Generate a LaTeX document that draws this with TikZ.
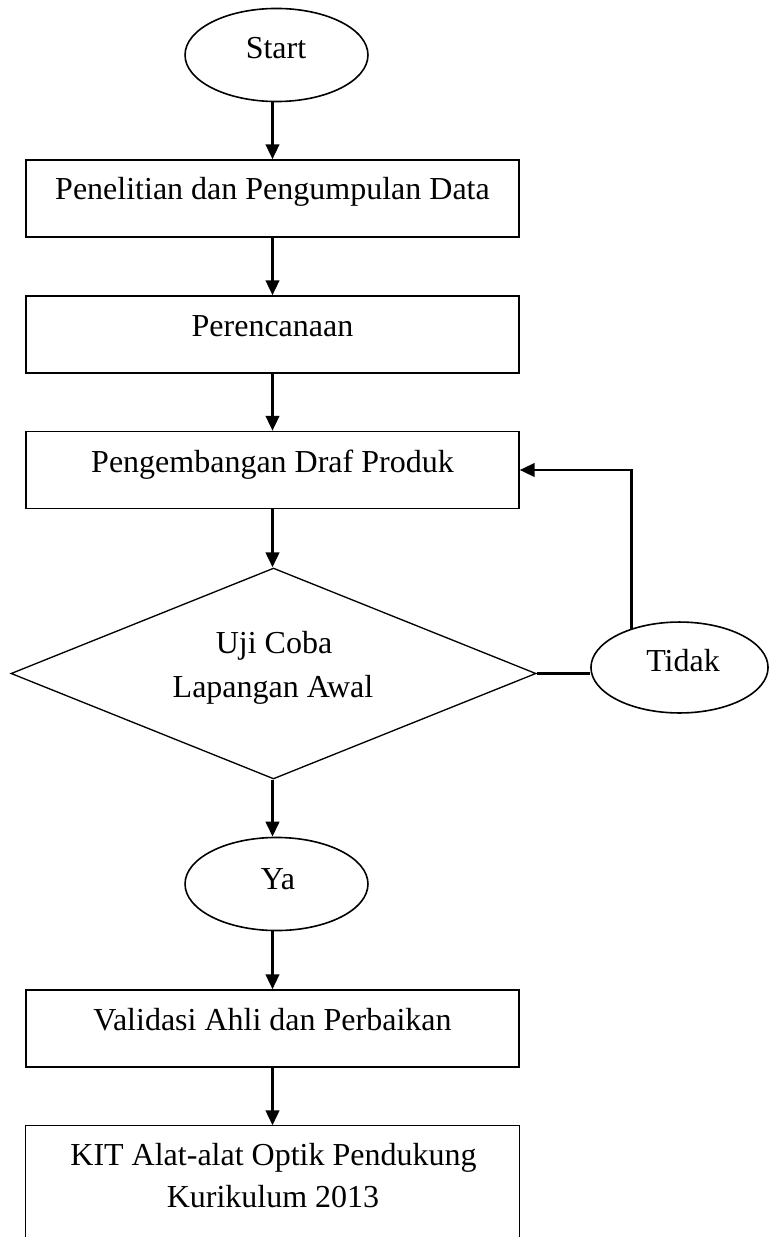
\documentclass[tikz,border=0pt]{standalone}
\usepackage{fontspec}
\setmainfont{Liberation Serif}
\usetikzlibrary{shapes.geometric,arrows.meta}
\begin{document}
\begin{tikzpicture}[x=0.375pt,y=-0.375pt,
  box/.style={draw,line width=0.5pt,minimum width=184.9pt,minimum height=28.9pt,inner sep=0pt},
  oval/.style={draw,ellipse,line width=0.6pt,minimum width=68.6pt,minimum height=34.9pt,inner sep=0pt},
  decision/.style={draw,diamond,line width=0.5pt,minimum width=196.9pt,minimum height=79.1pt,inner sep=0pt},
  txt/.style={font=\fontsize{12}{15}\selectfont,inner sep=0pt,anchor=base},
  flow/.style={line width=1.1pt,-{Triangle[length=5.6pt,width=5pt]}},
  link/.style={line width=1.1pt}]
\useasboundingbox (0,0) rectangle (769,1237);

% start
\node[oval] (start) at (276.5,55) {};
\node[txt] (tstart) at (276,59) {Start};

% boxes
\node[box] (b1) at (272.5,198.5) {};
\node[txt] (t1) at (272.5,200) {Penelitian dan Pengumpulan Data};
\node[box] (b2) at (272.5,334.5) {};
\node[txt] (t2) at (272.5,336) {Perencanaan};
\node[box] (b3) at (272.5,470) {};
\node[txt] (t3) at (272.5,472) {Pengembangan Draf Produk};

% decision
\node[decision] (d) at (273.5,673.5) {};
\node[txt] (td1) at (274,653) {Uji Coba};
\node[txt] (td2) at (273,697) {Lapangan Awal};

% tidak
\node[draw,ellipse,line width=0.6pt,minimum width=66.4pt,minimum height=34.1pt,inner sep=0pt] (tidak) at (679.5,667.5) {};
\node[txt] (ttidak) at (683,671) {Tidak};

% ya
\node[oval] (ya) at (276.5,884) {};
\node[txt] (tya) at (278,889) {Ya};

\node[box] (b4) at (272.5,1028.5) {};
\node[txt] (t4) at (272.5,1030) {Validasi Ahli dan Perbaikan};

\node[box,draw=none,minimum height=41.6pt] (b5) at (272.5,1181.5) {};
\draw[line width=0.5pt] (b5.south west) -- (b5.north west) -- (b5.north east) -- (b5.south east);
\node[txt] (t5a) at (273.5,1165) {KIT Alat-alat Optik Pendukung};
\node[txt] (t5b) at (273,1207) {Kurikulum 2013};

% connectors
\draw[flow] (b1.north |- start.south) -- (b1.north);
\draw[flow] (b1.south) -- (b2.north);
\draw[flow] (b2.south) -- (b3.north);
\draw[flow] (b3.south) -- (b3.south |- d.north);
\draw[flow] (b3.south |- d.south) -- (b3.south |- ya.north);
\draw[flow] (b4.north |- ya.south) -- (b4.north);
\draw[flow] (b4.south) -- (b5.north);
\draw[link] (d.east) -- (d.east -| tidak.west);
\draw[flow] (tidak.141) |- (b3.east);
\end{tikzpicture}
\end{document}
